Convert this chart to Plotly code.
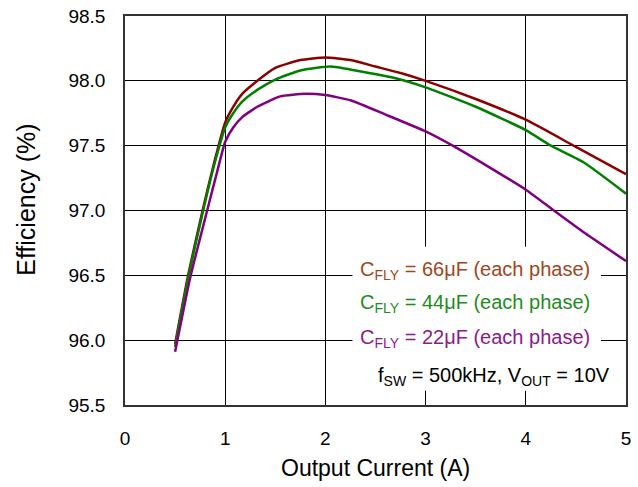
import plotly.graph_objects as go

# Data
x_66 = [0.5, 0.63, 0.78, 0.9, 1.0, 1.08, 1.17, 1.32, 1.5, 1.75, 2.0, 2.25, 2.5, 2.75, 3.0, 3.5, 4.0, 4.5, 5.0]
y_66 = [95.97, 96.5, 97.02, 97.4, 97.68, 97.8, 97.9, 98.0, 98.1, 98.16, 98.18, 98.16, 98.11, 98.06, 98.0, 97.86, 97.7, 97.49, 97.28]

x_44 = [0.5, 0.63, 0.78, 0.9, 1.0, 1.08, 1.17, 1.32, 1.5, 1.75, 2.05, 2.3, 2.7, 3.0, 3.5, 4.0, 4.25, 4.58, 5.0]
y_44 = [95.95, 96.48, 97.0, 97.38, 97.64, 97.75, 97.84, 97.93, 98.01, 98.08, 98.11, 98.08, 98.02, 97.95, 97.8, 97.62, 97.5, 97.37, 97.13]

x_22 = [0.5, 0.65, 0.82, 0.92, 1.0, 1.08, 1.17, 1.32, 1.55, 1.8, 2.0, 2.25, 2.6, 3.0, 3.27, 3.6, 4.0, 4.28, 4.6, 5.0]
y_22 = [95.91, 96.48, 97.0, 97.3, 97.53, 97.64, 97.72, 97.8, 97.88, 97.9, 97.89, 97.85, 97.74, 97.61, 97.5, 97.35, 97.16, 97.0, 96.82, 96.61]

x_ticks = [0, 1, 2, 3, 4, 5]
y_ticks = [95.5, 96.0, 96.5, 97.0, 97.5, 98.0, 98.5]
y_tick_labels = ["95.5", "96.0", "96.5", "97.0", "97.5", "98.0", "98.5"]

labels = [
    "C<sub>FLY</sub> = 66\u03bcF (each phase)",
    "C<sub>FLY</sub> = 44\u03bcF (each phase)",
    "C<sub>FLY</sub> = 22\u03bcF (each phase)",
]
note = "f<sub>SW</sub> = 500kHz, V<sub>OUT</sub> = 10V"
x_title = "Output Current (A)"
y_title = "Efficiency (%)"

FONT = "Liberation Sans, Arial, sans-serif"

fig = go.Figure()
for xs, ys, col in [(x_66, y_66, "#8B0000"), (x_44, y_44, "#008000"), (x_22, y_22, "#800080")]:
    fig.add_trace(go.Scatter(x=xs, y=ys, mode="lines",
                             line=dict(color=col, width=2.5, shape="spline", smoothing=0.5),
                             showlegend=False))

# white box behind the legend texts (covers gridlines)
fig.add_shape(type="rect", xref="x", yref="y", x0=2.27, x1=4.75, y0=95.61, y1=96.72,
              fillcolor="white", line=dict(width=0), layer="between")

text_colors = ["#A0461E", "#1E8C1E", "#8C1A8C"]
text_y = [96.54, 96.28, 96.01]
for lab, col, ty in zip(labels, text_colors, text_y):
    fig.add_annotation(x=2.33, y=ty, xref="x", yref="y", text=lab, showarrow=False,
                       xanchor="left", yanchor="middle", font=dict(family=FONT, size=20, color=col))
fig.add_annotation(x=2.5, y=95.72, xref="x", yref="y", text=note, showarrow=False,
                   xanchor="left", yanchor="middle", font=dict(family=FONT, size=20, color="black"))

# axis titles as annotations (exact placement)
fig.add_annotation(x=0.5, y=-0.162, xref="paper", yref="paper", text=x_title, showarrow=False,
                   xanchor="center", yanchor="middle", font=dict(family=FONT, size=23, color="black"))
fig.add_annotation(x=-0.198, y=0.527, xref="paper", yref="paper", text=y_title, showarrow=False,
                   textangle=-90, xanchor="center", yanchor="middle",
                   font=dict(family=FONT, size=25, color="black"))

fig.update_layout(
    width=638, height=487,
    margin=dict(l=125, r=12, t=16, b=82),
    paper_bgcolor="white", plot_bgcolor="white",
    font=dict(family=FONT, color="black"),
)
fig.update_xaxes(range=[0, 5], tickvals=x_ticks, showgrid=True, gridcolor="black", gridwidth=1,
                 showline=True, linecolor="#333333", linewidth=1.5, mirror=True, zeroline=False,
                 ticks="", ticklabelstandoff=15, tickfont=dict(size=19), automargin=False)
fig.update_yaxes(range=[95.5, 98.5], tickvals=y_ticks, ticktext=y_tick_labels, showgrid=True,
                 gridcolor="black", gridwidth=1,
                 showline=True, linecolor="#333333", linewidth=1.5, mirror=True, zeroline=False,
                 ticks="", ticklabelstandoff=14, tickfont=dict(size=19), automargin=False)

fig.write_html("out.html")
